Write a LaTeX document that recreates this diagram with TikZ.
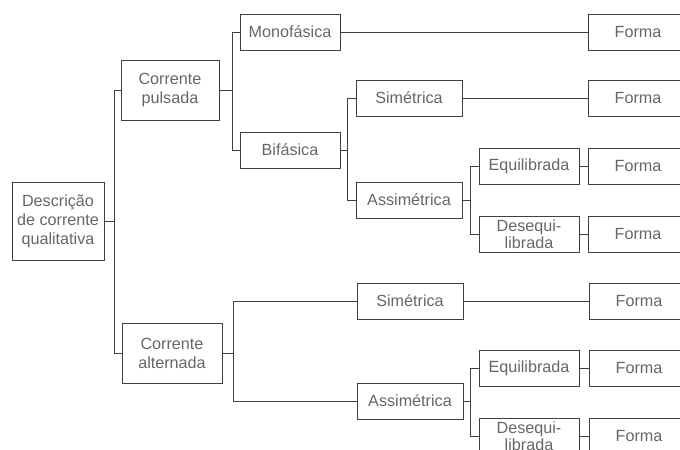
\documentclass[tikz,border=0pt]{standalone}
\usepackage{fontspec}
\setmainfont{Liberation Sans}

\begin{document}
\begin{tikzpicture}[x=0.025cm, y=-0.025cm, color=black!75, line width=0.6pt,
    box/.style={draw, text=black!60, minimum width=2.5cm, minimum height=0.9cm, align=center, font=\fontsize{11.5}{13.5}\selectfont},
    tallbox/.style={box, minimum height=1.5cm},
    splitbox/.style={box, inner sep=1pt, font=\fontsize{11.5}{10.5}\selectfont}]

    \useasboundingbox (0,0) rectangle (680,449);
    \clip (0,0) rectangle (680,449);

    \node (desc) [box, minimum width=2.3cm, minimum height=1.95cm] at (58,221) {Descrição\\de corrente\\qualitativa};

    \node (pulsada) [tallbox, minimum width=2.45cm] at (170,90) {Corrente\\pulsada};
    \node (alternada) [tallbox] at (172,353) {Corrente\\alternada};

    \node (mono) [box] at (290,32) {Monofásica};
    \node (bif) [box] at (290,150) {Bifásica};

    \node (sim1) [box, minimum width=2.65cm] at (409,98) {Simétrica};
    \node (assim1) [box, minimum width=2.65cm] at (409,200) {Assimétrica};
    \node (equi1) [box] at (529,166) {Equilibrada};
    \node (deseq1) [splitbox] at (529,234) {Desequi-\\librada};

    \node (sim2) [box, minimum width=2.65cm] at (410,301) {Simétrica};
    \node (assim2) [box, minimum width=2.65cm] at (410,401) {Assimétrica};
    \node (equi2) [box] at (529,368) {Equilibrada};
    \node (deseq2) [splitbox] at (529,436) {Desequi-\\librada};

    % formas, cortadas na borda
    \node (forma1) [box] at (638,32) {Forma};
    \node (forma2) [box] at (638,98) {Forma};
    \node (forma3) [box] at (638,166) {Forma};
    \node (forma4) [box] at (638,234) {Forma};
    \node (forma5) [box] at (639,301) {Forma};
    \node (forma6) [box] at (639,368) {Forma};
    \node (forma7) [box] at (639,436) {Forma};

    \draw (desc.east) -- ++(10,0) |- (pulsada);
    \draw (desc.east) -- ++(10,0) |- (alternada);

    \draw (pulsada.east) -- ++(13,0) |- (mono);
    \draw (pulsada.east) -- ++(13,0) |- (bif);
    \draw (alternada.east) -- ++(11,0) |- (sim2);
    \draw (alternada.east) -- ++(11,0) |- (assim2);

    \draw (bif.east) -- ++(7,0) |- (sim1);
    \draw (bif.east) -- ++(7,0) |- (assim1);
    \draw (assim1.east) -- ++(8,0) |- (equi1);
    \draw (assim1.east) -- ++(8,0) |- (deseq1);
    \draw (assim2.east) -- ++(7,0) |- (equi2);
    \draw (assim2.east) -- ++(7,0) |- (deseq2);

    \draw (mono) -- (forma1);
    \draw (sim1) -- (forma2);
    \draw (equi1) -- (forma3);
    \draw (deseq1) -- (forma4);
    \draw (sim2) -- (forma5);
    \draw (equi2) -- (forma6);
    \draw (deseq2) -- (forma7);

\end{tikzpicture}
\end{document}
